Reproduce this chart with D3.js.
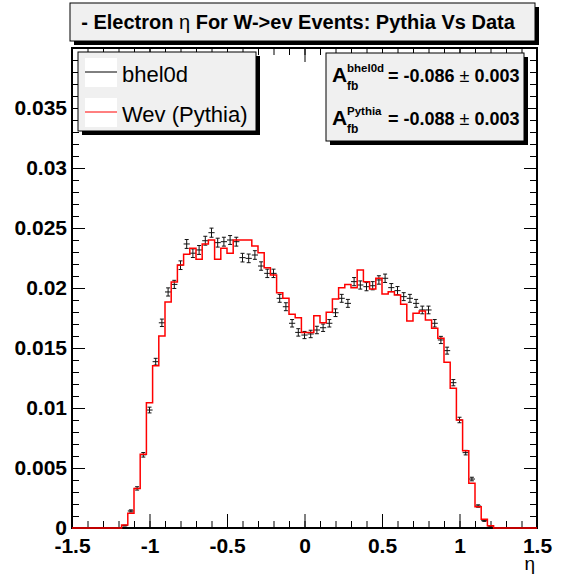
<!DOCTYPE html>
<html>
<head>
<meta charset="utf-8">
<script src="https://cdn.jsdelivr.net/npm/d3@7"></script>
<style>
  body { margin: 0; background: #fff; }
  svg { display: block; font-family: 'Liberation Sans', Arial, sans-serif; }
</style>
</head>
<body>
<div id="chart"></div>
<script>
// Histogram binning: 75 bins of 0.04 from -1.5 to 1.5
const binStart = -1.5
const binWidth = 0.04
const nBins = 75

// bhel0d data, per bin
const dataValues = [
  0, 0, 0, 0, 0, 0, 0, 0,
  0.0002, 0.00142, 0.0033, 0.0061, 0.00983, 0.01386, 0.0171, 0.01967, 0.0203, 0.0219,
  0.02367, 0.0229, 0.02317, 0.02394, 0.02461, 0.02378, 0.02386, 0.024, 0.02386, 0.02253,
  0.02247, 0.02275, 0.02183, 0.02122, 0.02122, 0.01914, 0.01844, 0.01706, 0.0163, 0.01608,
  0.01617, 0.0165, 0.01669, 0.01706, 0.01794, 0.01914, 0.01872, 0.02053, 0.02025, 0.02011,
  0.02019, 0.02067, 0.02081, 0.02003, 0.01978, 0.01928, 0.01914, 0.01872, 0.01817, 0.01817,
  0.01706, 0.01567, 0.01478, 0.01211, 0.009, 0.00628, 0.00408, 0.00183, 0.00061, 0.00017,
  0, 0, 0, 0, 0, 0, 0
]

// bhel0d errors, per bin
const dataErrors = [
  0, 0, 0, 0, 0, 0, 0, 0,
  0.000034, 0.00009, 0.00014, 0.00019, 0.00024, 0.00028, 0.00031, 0.00034, 0.00034, 0.00036,
  0.00037, 0.00036, 0.00037, 0.00037, 0.00038, 0.00037, 0.00037, 0.00037, 0.00037, 0.00036,
  0.00036, 0.00036, 0.00035, 0.00035, 0.00035, 0.00033, 0.00033, 0.00031, 0.00031, 0.0003,
  0.00031, 0.00031, 0.00031, 0.00031, 0.00032, 0.00033, 0.00033, 0.00034, 0.00034, 0.00034,
  0.00034, 0.00035, 0.00035, 0.00034, 0.00034, 0.00033, 0.00033, 0.00033, 0.00032, 0.00032,
  0.00031, 0.0003, 0.00029, 0.00026, 0.00023, 0.00019, 0.00015, 0.0001, 0.00006, 0.00003,
  0, 0, 0, 0, 0, 0, 0
]

// Wev (Pythia) histogram, per bin
const pythiaValues = [
  0, 0, 0, 0, 0, 0, 0, 0,
  0.00025, 0.00122, 0.0033, 0.00614, 0.01044, 0.01353, 0.016, 0.01883, 0.0205, 0.02192,
  0.02281, 0.02331, 0.02239, 0.02367, 0.024, 0.02239, 0.02331, 0.02289, 0.024, 0.024,
  0.024, 0.0235, 0.02294, 0.02169, 0.02108, 0.01961, 0.01914, 0.01781, 0.01753, 0.0163,
  0.0163, 0.01769, 0.01711, 0.01797, 0.01908, 0.02003, 0.0203, 0.02003, 0.0215, 0.02053,
  0.01992, 0.02081, 0.0195, 0.01969, 0.01942, 0.01864, 0.01725, 0.01789, 0.01808, 0.01733,
  0.01664, 0.01581, 0.01381, 0.01164, 0.009, 0.00644, 0.00372, 0.00178, 0.00072, 0.00019,
  0, 0, 0, 0, 0, 0, 0
]

const xTicks = [-1.5, -1, -0.5, 0, 0.5, 1, 1.5]
const xTickLabels = ['-1.5', '-1', '-0.5', '0', '0.5', '1', '1.5']
const yTicks = [0, 0.005, 0.01, 0.015, 0.02, 0.025, 0.03, 0.035]
const yTickLabels = ['0', '0.005', '0.01', '0.015', '0.02', '0.025', '0.03', '0.035']

const titleText = '- Electron η For W->ev Events: Pythia Vs Data'
const legendLabels = ['bhel0d', 'Wev (Pythia)']
const legendColors = ['#000000', '#ff0000']
const afbNames = ['bhel0d', 'Pythia']
const afbValues = ['-0.086', '-0.088']
const afbErrors = ['0.003', '0.003']

// Dimensions
const width = 569
const height = 575
const frame = { left: 72, right: 537, top: 48, bottom: 528 }
const boxFill = '#f0f0f0'

const svg = d3.select('#chart')
  .append('svg')
  .attr('width', width)
  .attr('height', height)

// Scales
const x = d3.scaleLinear().domain([-1.5, 1.5]).range([frame.left, frame.right])
const y = d3.scaleLinear().domain([0, 0.04]).range([frame.bottom, frame.top])

const edges = d3.range(nBins + 1).map(i => binStart + i * binWidth)
const bins = d3.range(nBins).map(i => ({
  lo: edges[i],
  hi: edges[i + 1],
  mid: (edges[i] + edges[i + 1]) / 2,
  value: dataValues[i],
  err: dataErrors[i],
  pythia: pythiaValues[i]
}))

// Minor ticks
const xMinor = d3.range(31).map(i => -1.5 + i * 0.1)
const yMinor = d3.range(41).map(i => i * 0.001)

// Bottom axis
svg.append('g')
  .attr('transform', `translate(0,${frame.bottom})`)
  .call(d3.axisBottom(x).tickValues(xMinor).tickSize(-7).tickFormat(''))
  .call(g => g.select('.domain').remove())
svg.append('g')
  .attr('class', 'x-axis')
  .attr('transform', `translate(0,${frame.bottom})`)
  .call(d3.axisBottom(x).tickValues(xTicks).tickSize(-14).tickPadding(10)
    .tickFormat((d, i) => xTickLabels[i]))
  .call(g => g.select('.domain').remove())

// Top axis (mirror)
svg.append('g')
  .attr('transform', `translate(0,${frame.top})`)
  .call(d3.axisTop(x).tickValues(xMinor).tickSize(-7).tickFormat(''))
  .call(g => g.select('.domain').remove())
svg.append('g')
  .attr('transform', `translate(0,${frame.top})`)
  .call(d3.axisTop(x).tickValues(xTicks).tickSize(-14).tickFormat(''))
  .call(g => g.select('.domain').remove())

// Left axis
svg.append('g')
  .attr('transform', `translate(${frame.left},0)`)
  .call(d3.axisLeft(y).tickValues(yMinor).tickSize(-7).tickFormat(''))
  .call(g => g.select('.domain').remove())
svg.append('g')
  .attr('class', 'y-axis')
  .attr('transform', `translate(${frame.left},0)`)
  .call(d3.axisLeft(y).tickValues(yTicks).tickSize(-13).tickPadding(5)
    .tickFormat((d, i) => yTickLabels[i]))
  .call(g => g.select('.domain').remove())

// Right axis (mirror)
svg.append('g')
  .attr('transform', `translate(${frame.right},0)`)
  .call(d3.axisRight(y).tickValues(yMinor).tickSize(-7).tickFormat(''))
  .call(g => g.select('.domain').remove())
svg.append('g')
  .attr('transform', `translate(${frame.right},0)`)
  .call(d3.axisRight(y).tickValues(yTicks).tickSize(-13).tickFormat(''))
  .call(g => g.select('.domain').remove())

svg.selectAll('.tick line').attr('stroke', '#000').attr('stroke-width', 1)
svg.selectAll('.x-axis text, .y-axis text')
  .attr('fill', '#000')
  .style('font-size', '21px')
  .style('font-weight', 'bold')
  .style('font-family', "'Liberation Sans', Arial, sans-serif")

// Frame
svg.append('rect')
  .attr('x', frame.left)
  .attr('y', frame.top)
  .attr('width', frame.right - frame.left)
  .attr('height', frame.bottom - frame.top)
  .attr('fill', 'none')
  .attr('stroke', '#000')
  .attr('stroke-width', 2)

// Data points with error bars (E1 style)
const pts = svg.append('g')
  .attr('stroke', '#111')
  .attr('stroke-width', 1)
  .attr('fill', 'none')
  .selectAll('g')
  .data(bins.filter(d => d.value > 0))
  .join('g')

pts.append('line')
  .attr('x1', d => x(d.lo)).attr('x2', d => x(d.hi))
  .attr('y1', d => y(d.value)).attr('y2', d => y(d.value))
pts.append('line')
  .attr('x1', d => x(d.mid)).attr('x2', d => x(d.mid))
  .attr('y1', d => y(d.value - d.err)).attr('y2', d => y(d.value + d.err))
pts.append('line')
  .attr('x1', d => x(d.mid) - 2).attr('x2', d => x(d.mid) + 2)
  .attr('y1', d => y(d.value + d.err)).attr('y2', d => y(d.value + d.err))
pts.append('line')
  .attr('x1', d => x(d.mid) - 2).attr('x2', d => x(d.mid) + 2)
  .attr('y1', d => y(d.value - d.err)).attr('y2', d => y(d.value - d.err))

// Pythia histogram line
const stepLine = d3.line()
  .x(d => x(d[0]))
  .y(d => y(d[1]))
  .curve(d3.curveStepAfter)

const stepPoints = bins.map(d => [d.lo, d.pythia])
stepPoints.push([edges[nBins], pythiaValues[nBins - 1]])

svg.append('path')
  .datum(stepPoints)
  .attr('d', stepLine)
  .attr('fill', 'none')
  .attr('stroke', '#ff0000')
  .attr('stroke-width', 1.5)

// Pave helper: box with ROOT-like shadow
function pave(x0, y0, x1, y1) {
  svg.append('rect')
    .attr('x', x0 + 4).attr('y', y0 + 4)
    .attr('width', x1 - x0).attr('height', y1 - y0)
    .attr('fill', '#000')
  svg.append('rect')
    .attr('x', x0).attr('y', y0)
    .attr('width', x1 - x0).attr('height', y1 - y0)
    .attr('fill', boxFill)
    .attr('stroke', '#000')
    .attr('stroke-width', 1)
}

// Title
pave(70, 3, 535, 41)
const title = svg.append('text')
  .attr('x', 298)
  .attr('y', 29)
  .attr('text-anchor', 'middle')
  .style('font-size', '20px')
  .style('font-weight', 'bold')
const titleParts = titleText.split('η')
title.append('tspan').text(titleParts[0])
title.append('tspan').style('font-weight', 'normal').text('η')
title.append('tspan').text(titleParts[1])

// Legend
pave(78, 52, 256, 131)
legendLabels.forEach((label, i) => {
  const top = 58 + i * 40
  svg.append('rect')
    .attr('x', 85).attr('y', top)
    .attr('width', 32).attr('height', 29)
    .attr('fill', '#fff')
  svg.append('line')
    .attr('x1', 85).attr('x2', 117)
    .attr('y1', top + 14).attr('y2', top + 14)
    .attr('stroke', legendColors[i])
    .attr('stroke-width', 1)
  svg.append('text')
    .attr('x', 122)
    .attr('y', top + 24)
    .style('font-size', '22px')
    .text(label)
})

// Asymmetry stats box
pave(326, 53, 524, 141)
afbNames.forEach((name, i) => {
  const base = 82 + i * 43
  svg.append('text')
    .attr('x', 332).attr('y', base)
    .style('font-size', '21px').style('font-weight', 'bold')
    .text('A')
  svg.append('text')
    .attr('x', 347).attr('y', base - 10)
    .style('font-size', '11.5px').style('font-weight', 'bold')
    .text(name)
  svg.append('text')
    .attr('x', 347).attr('y', base + 8)
    .style('font-size', '12px').style('font-weight', 'bold')
    .text('fb')
  const t = svg.append('text')
    .attr('x', 388).attr('y', base)
    .style('font-size', '18px').style('font-weight', 'bold')
  t.append('tspan').text(`= ${afbValues[i]} `)
  t.append('tspan').style('font-weight', 'normal').text('±')
  t.append('tspan').text(` ${afbErrors[i]}`)
})

// X axis title
svg.append('text')
  .attr('x', frame.right - 2)
  .attr('y', 570)
  .attr('text-anchor', 'end')
  .style('font-size', '19px')
  .text('η')
</script>
</body>
</html>
